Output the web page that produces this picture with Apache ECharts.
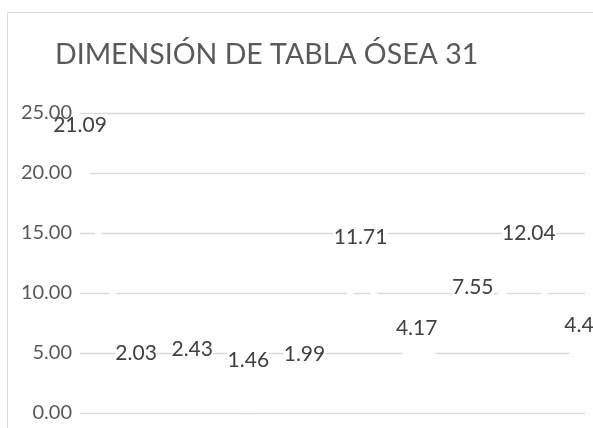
<!DOCTYPE html>
<html>
<head>
<meta charset="utf-8">
<script src="https://cdn.jsdelivr.net/npm/echarts@6/dist/echarts.min.js"></script>
<style>html,body{margin:0;padding:0;background:#fff;}#c{width:593px;height:428px;}</style>
</head>
<body>
<div id="c"></div>
<script>
var titleText = 'DIMENSIÓN DE TABLA ÓSEA 31';
var categories = ['1','2','3','4','5','6','7','8','9','10'];
var values = [21.09, 2.03, 2.43, 1.46, 1.99, 11.71, 4.17, 7.55, 12.04, 4.40];
var yTicks = {min: 0, max: 25, interval: 5};

function fmt2(v) { return v.toFixed(2); }

var chart = echarts.init(document.getElementById('c'));
chart.setOption({
  backgroundColor: '#fff',
  animation: false,
  title: {
    text: titleText,
    left: 50, top: 35,
    textStyle: {fontFamily: 'Lato', fontSize: 28.5, fontWeight: 'normal', color: '#595959'}
  },
  graphic: [{
    type: 'rect', shape: {x: 7.5, y: 12.5, width: 700, height: 600},
    style: {fill: 'none', stroke: '#d9d9d9', lineWidth: 1}, z: -10, silent: true
  }],
  grid: {left: 80, right: 8, top: 113, bottom: 15, containLabel: false},
  xAxis: {
    type: 'category', data: categories, boundaryGap: false,
    axisLine: {show: false}, axisTick: {show: false}, axisLabel: {show: false}, splitLine: {show: false}
  },
  yAxis: [{
    type: 'value', min: yTicks.min, max: yTicks.max, interval: yTicks.interval, z: 0,
    axisLine: {show: false}, axisTick: {show: false}, axisLabel: {show: false},
    splitLine: {lineStyle: {color: '#d9d9d9', width: 1.3}}
  }, {
    type: 'value', min: yTicks.min, max: yTicks.max, interval: yTicks.interval, z: 5,
    position: 'left',
    axisLine: {show: false}, axisTick: {show: false}, splitLine: {show: false},
    axisLabel: {margin: 8, color: '#595959', fontFamily: 'Lato', fontSize: 20, formatter: fmt2}
  }],
  series: [{
    type: 'line', data: values, yAxisIndex: 0, z: 2,
    showSymbol: true, showAllSymbol: true,
    lineStyle: {color: '#ffffff', width: 6},
    symbol: 'circle', symbolSize: 34,
    itemStyle: {color: '#ffffff', borderWidth: 0},
    label: {
      show: true, position: 'top', distance: 7,
      color: '#404040', fontFamily: 'Lato', fontSize: 21, lineHeight: 22,
      backgroundColor: '#ffffff', padding: 0,
      formatter: function (p) { return fmt2(p.value); }
    },
    emphasis: {disabled: true}
  }]
});
</script>
</body>
</html>
